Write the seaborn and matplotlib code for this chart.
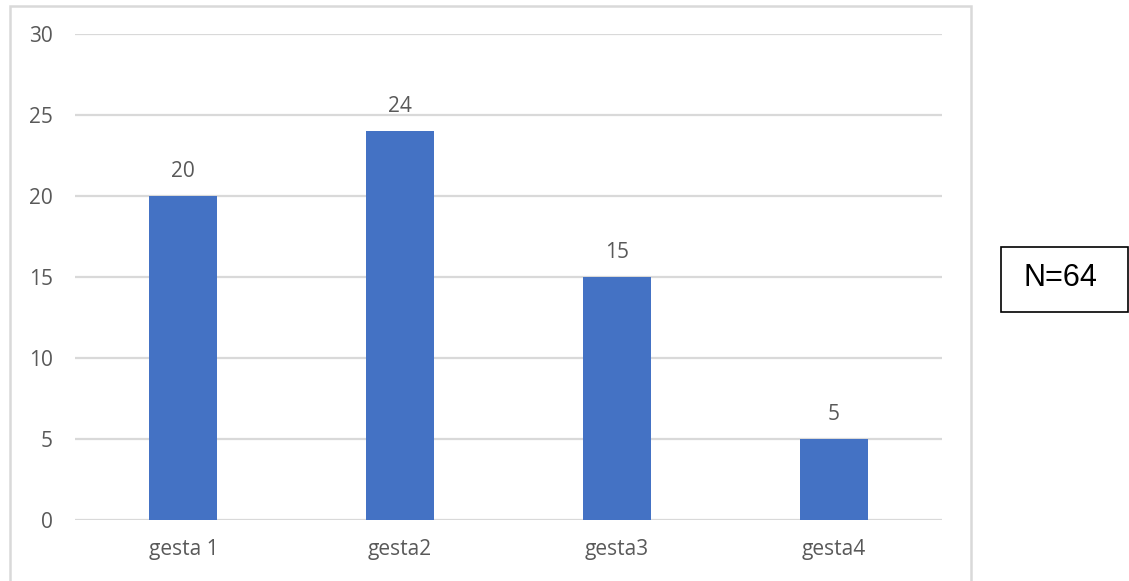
import matplotlib
matplotlib.use("Agg")
import matplotlib.pyplot as plt
import seaborn as sns
import pandas as pd
from matplotlib.patches import Rectangle

categories = ["gesta 1", "gesta2", "gesta3", "gesta4"]
counts = [20, 24, 15, 5]
y_ticks = [0, 5, 10, 15, 20, 25, 30]
note_text = "N=64"

sns.set_theme(style="white")
plt.rcParams["font.family"] = ["Open Sans", "DejaVu Sans"]

text_gray = "#595959"
grid_gray = "#d9d9d9"
bar_blue = "#4472C4"

df = pd.DataFrame({"category": categories, "count": counts})

fig = plt.figure(figsize=(11.29, 5.81), dpi=100)
ax = fig.add_axes([75 / 1129, 61 / 581, 867 / 1129, 486 / 581])

sns.barplot(data=df, x="category", y="count", color=bar_blue,
            saturation=1, width=0.313, linewidth=0, ax=ax, zorder=3)

ax.set_ylim(0, 30)
ax.set_xlim(-0.5, len(categories) - 0.5)
ax.set_yticks(y_ticks)
ax.yaxis.grid(True, color=grid_gray, linewidth=1.6, zorder=0)
ax.set_axisbelow(True)
for side in ["top", "right", "left", "bottom"]:
    ax.spines[side].set_visible(False)
ax.set_xlabel("")
ax.set_ylabel("")
ax.tick_params(axis="both", length=0, labelsize=15, colors=text_gray)
ax.tick_params(axis="y", pad=16)
ax.tick_params(axis="x", pad=14)

for container in ax.containers:
    ax.bar_label(container, labels=[str(v) for v in counts], padding=10,
                 fontsize=15, color=text_gray)

# outer chart border
fig.patches.append(Rectangle((10 / 1129, -0.05), 961 / 1129, 1.05 - 6 / 581,
                             transform=fig.transFigure, fill=False,
                             edgecolor=grid_gray, linewidth=1.8))

# sample-size note box
fig.patches.append(Rectangle((1001 / 1129, (581 - 312) / 581), 127 / 1129, 65 / 581,
                             transform=fig.transFigure, fill=False,
                             edgecolor="black", linewidth=1.2))
fig.text(1060 / 1129, (581 - 278) / 581, note_text, ha="center", va="center",
         fontsize=22, color="black", family=["Liberation Sans", "DejaVu Sans"])

fig.savefig("out.png", dpi=100)
